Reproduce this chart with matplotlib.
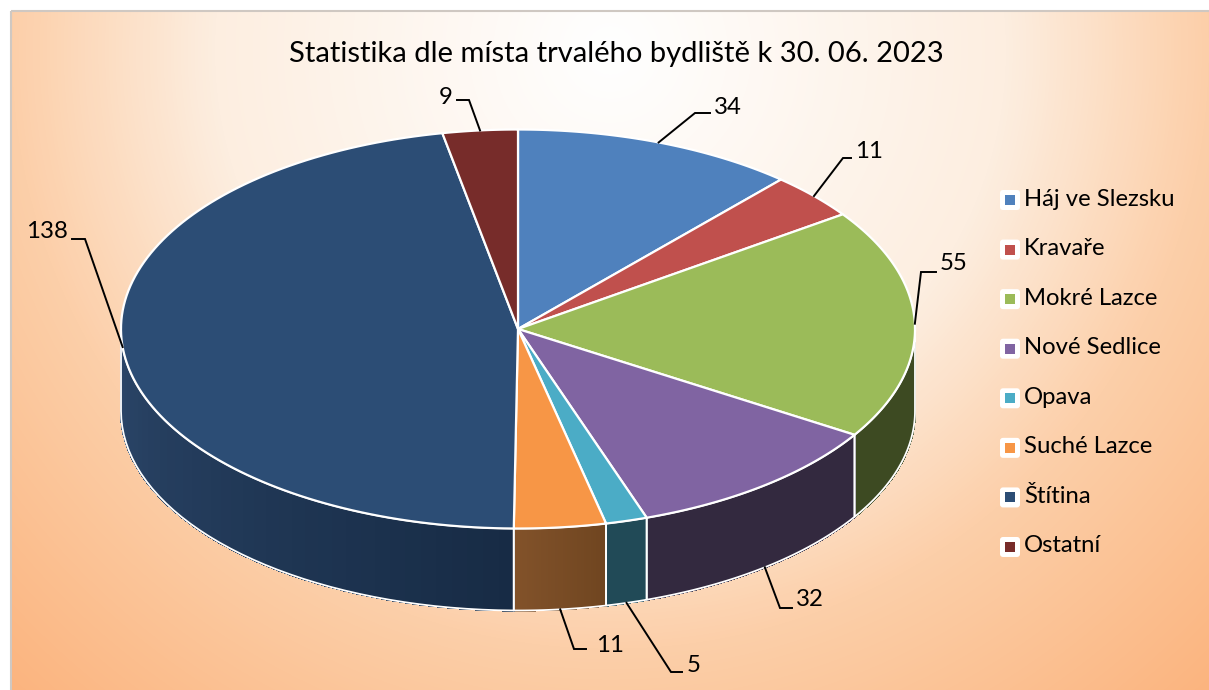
import numpy as np
import matplotlib
matplotlib.use("Agg")
import matplotlib.pyplot as plt
from matplotlib.collections import PolyCollection
from matplotlib.colors import LinearSegmentedColormap, to_rgb
from matplotlib.patches import FancyBboxPatch, Polygon, Rectangle

plt.rcParams["font.family"] = ["Lato", "DejaVu Sans"]

title = "Statistika dle místa trvalého bydliště k 30. 06. 2023"
places = ["Háj ve Slezsku", "Kravaře", "Mokré Lazce", "Nové Sedlice",
          "Opava", "Suché Lazce", "Štítina", "Ostatní"]
counts = [34, 11, 55, 32, 5, 11, 138, 9]

top_colors = ["#4f81bd", "#c0504d", "#9bbb59", "#8064a2",
              "#4bacc6", "#f79646", "#2c4d75", "#772c2a"]
side_left = ["#2f4d71", "#73302e", "#3d4a22", "#33293f",
             "#214a57", "#82522a", "#2b4669", "#471a19"]
side_right = ["#2f4d71", "#73302e", "#3d4a22", "#33293f",
              "#214a57", "#6f4520", "#172b45", "#471a19"]

# leader lines: elbow point and end of the short horizontal piece, then label position
elbows = [(695, 113), (843, 158), (921, 272), (780, 608),
          (671, 672), (574, 649), (85, 239), (469, 100)]
ends = [(710, 113), (851, 158), (936, 272), (792, 608),
        (682, 672), (586, 649), (72, 239), (457, 100)]
label_pos = [(714, 107), (855, 152), (940, 264), (796, 600),
             (687, 666), (596, 645), (68, 231), (453, 98)]
label_ha = ["left", "left", "left", "left", "left", "left", "right", "right"]

cx, cy = 518, 329
rx, ry = 397, 199.5
depth = 82


def edge(theta, drop=0):
    t = np.radians(theta)
    return np.column_stack([cx + rx * np.sin(t), cy - ry * np.cos(t) + drop])


fig = plt.figure(figsize=(12.09, 6.9), dpi=100)
ax = fig.add_axes([0, 0, 1, 1])

# background
yy, xx = np.mgrid[11:690, 12:1209]
dist = np.hypot(xx - 610, yy - 50) / 880
bg = LinearSegmentedColormap.from_list("bg", [(0, "#ffffff"), (0.45, "#fdeee0"),
                                              (0.68, "#fccfa9"), (1, "#fbb47e")])
ax.imshow(dist, cmap=bg, vmin=0, vmax=1, extent=(12, 1209, 690, 11),
          aspect="auto", interpolation="bilinear", zorder=0)
ax.set_xlim(0, 1209)
ax.set_ylim(690, 0)
ax.axis("off")
ax.add_patch(Rectangle((11, 10.5), 1300, 690, fill=False, ec="#cfc8c2", lw=1.5, zorder=1))

angles = np.concatenate([[0], np.cumsum(counts) / np.sum(counts) * 360])

# side walls, only the front half shows
for i in range(len(counts)):
    a0, a1 = max(angles[i], 90), min(angles[i + 1], 270)
    if a1 <= a0:
        continue
    th = np.linspace(a0, a1, 40)
    strips = []
    cols = []
    # angles run right to left along the front, so colour goes from right to left
    c_r, c_l = np.array(to_rgb(side_right[i])), np.array(to_rgb(side_left[i]))
    for j in range(len(th) - 1):
        p = edge(th[j:j + 2])
        q = edge(th[j:j + 2], depth)
        strips.append(np.vstack([p, q[::-1]]))
        f = (j + 0.5) / (len(th) - 1)
        cols.append(c_r + (c_l - c_r) * f)
    ax.add_collection(PolyCollection(strips, facecolors=cols, edgecolors=cols, lw=1.0,
                                     antialiased=False, zorder=2))
    outline = np.vstack([edge(th), edge(th, depth)[::-1]])
    ax.add_patch(Polygon(outline, closed=True, fill=False, ec="white", lw=1.3, zorder=3,
                         joinstyle="round"))

# top face
for i in range(len(counts)):
    th = np.linspace(angles[i], angles[i + 1], 120)
    pts = np.vstack([[cx, cy], edge(th)])
    ax.add_patch(Polygon(pts, closed=True, fc=top_colors[i], ec="white", lw=1.6, zorder=4,
                         joinstyle="round"))

# leaders and values
for i in range(len(counts)):
    mid = (angles[i] + angles[i + 1]) / 2
    front = 90 < mid < 270
    a = edge(np.array([mid]), depth if front and mid < 255 else 0)[0]
    ax.plot([a[0], elbows[i][0], ends[i][0]], [a[1], elbows[i][1], ends[i][1]],
            color="black", lw=1.4, zorder=5, solid_joinstyle="miter")
    ax.text(label_pos[i][0], label_pos[i][1], str(counts[i]), fontsize=17.3,
            ha=label_ha[i], va="center", color="black", zorder=6)

ax.text(616, 54, title, fontsize=21, ha="center", va="center", color="black", zorder=6)

# legend
for i, name in enumerate(places):
    y = 200 + i * 49.57
    ax.add_patch(FancyBboxPatch((1002, y - 8), 16, 16, boxstyle="round,pad=2,rounding_size=3",
                                fc="white", ec="none", zorder=5))
    ax.add_patch(Rectangle((1005, y - 5), 10, 10, fc=top_colors[i], ec="none", zorder=6))
    ax.text(1024, y - 1, name, fontsize=17.2, ha="left", va="center", color="black", zorder=6)

fig.savefig("out.png", dpi=100, facecolor="white")
